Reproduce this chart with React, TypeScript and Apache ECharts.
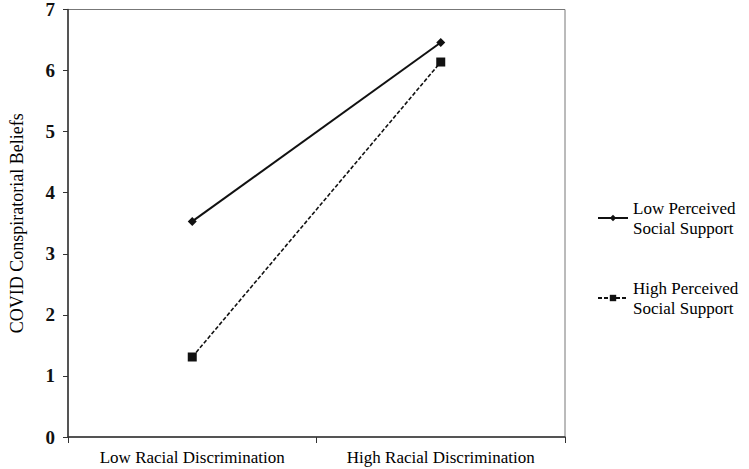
import React, { useEffect, useRef } from "react";
import * as echarts from "echarts";

const categories = ["Low Racial Discrimination", "High Racial Discrimination"];
const lowSupport = [3.53, 6.46];
const highSupport = [1.31, 6.14];
const seriesNames = ["Low Perceived\nSocial Support", "High Perceived\nSocial Support"];

const FONT = "Liberation Serif";

export default function App() {
  const ref = useRef<HTMLDivElement>(null);
  useEffect(() => {
    if (!ref.current) return;
    const chart = echarts.init(ref.current, null, { renderer: "svg" });
    chart.setOption({
      animation: false,
      backgroundColor: "#ffffff",
      textStyle: { fontFamily: FONT },
      grid: {
        left: 62,
        right: 184,
        top: 8,
        bottom: 32,
        show: true,
        borderColor: "#777",
        borderWidth: 1,
      },
      legend: {
        orient: "vertical",
        left: 592,
        top: 193,
        itemGap: 40,
        itemWidth: 30,
        itemHeight: 8,
        textStyle: { fontFamily: FONT, fontSize: 17, color: "#000", lineHeight: 20 },
        data: seriesNames,
      },
      xAxis: {
        type: "category",
        data: categories,
        boundaryGap: true,
        axisLine: { lineStyle: { color: "#333", width: 1.5 } },
        axisTick: { show: true, length: 6, lineStyle: { color: "#333" } },
        axisLabel: { fontFamily: FONT, fontSize: 17, color: "#000", margin: 12 },
      },
      yAxis: {
        type: "value",
        min: 0,
        max: 7,
        interval: 1,
        name: "COVID Conspiratorial Beliefs",
        nameLocation: "middle",
        nameGap: 42,
        nameTextStyle: { fontFamily: FONT, fontSize: 18, color: "#000" },
        splitLine: { show: false },
        axisLine: { show: true, lineStyle: { color: "#333", width: 1.5 } },
        axisTick: { show: true, length: 5, lineStyle: { color: "#333" } },
        axisLabel: { fontFamily: FONT, fontSize: 19, fontWeight: "bold", color: "#111", margin: 13 },
      },
      series: [
        {
          name: seriesNames[0],
          type: "line",
          data: lowSupport,
          symbol: "diamond",
          symbolSize: 9,
          itemStyle: { color: "#111" },
          lineStyle: { color: "#111", width: 2, type: "solid" },
        },
        {
          name: seriesNames[1],
          type: "line",
          data: highSupport,
          symbol: "rect",
          symbolSize: 9,
          itemStyle: { color: "#111" },
          lineStyle: { color: "#111", width: 1.6, type: [4, 2] },
        },
      ],
    });
    return () => chart.dispose();
  }, []);
  return <div ref={ref} style={{ width: 749, height: 469, position: "absolute", left: 0, top: 0 }} />;
}
